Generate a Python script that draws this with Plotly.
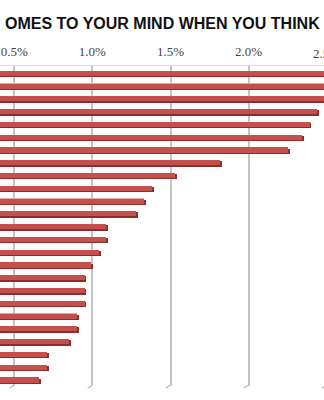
import plotly.graph_objects as go

# ---- data (percent) ----
values = [3.10, 2.80, 2.55, 2.44, 2.39, 2.34, 2.25, 1.82, 1.53, 1.38,
          1.33, 1.28, 1.09, 1.09, 1.04, 0.99, 0.95, 0.95, 0.95, 0.90,
          0.90, 0.85, 0.71, 0.71, 0.66]
tick_vals = [0.5, 1.0, 1.5, 2.0, 2.5]
tick_text = ["0.5%", "1.0%", "1.5%", "2.0%", "2.5%"]
title_text = "OMES TO YOUR MIND WHEN YOU THINK"

idx = list(range(len(values)))
x_range = [0.4085, 2.4827]
y_range = [len(values) - 0.53, -0.57]

fig = go.Figure()
# light top highlight
fig.add_trace(go.Bar(x=values, y=[i - 0.06 for i in idx], orientation="h",
                     width=0.3, marker=dict(color="#e4a3a1", line=dict(width=0)),
                     hoverinfo="skip"))
# dark shadow
fig.add_trace(go.Bar(x=[v + 0.012 for v in values], y=[i + 0.1 for i in idx], orientation="h",
                     width=0.42, marker=dict(color="#8a2f2d", line=dict(width=0)),
                     hoverinfo="skip"))
# main face
fig.add_trace(go.Bar(x=values, y=idx, orientation="h",
                     width=0.4, marker=dict(color="#c4504e", line=dict(width=0))))

fig.update_layout(
    width=324, height=400, margin=dict(l=0, r=0, t=0, b=0),
    paper_bgcolor="white", plot_bgcolor="white",
    barmode="overlay", showlegend=False, bargap=0,
    xaxis=dict(range=x_range, side="top", tickvals=tick_vals, ticktext=tick_text,
               showgrid=True, gridcolor="#c4c4c4", gridwidth=1.5,
               zeroline=False, showline=True, linecolor="#d6d9e0", linewidth=1,
               ticks="", ticklabelstandoff=4,
               tickfont=dict(family="Liberation Serif", size=13, color="#444444")),
    yaxis=dict(range=y_range, domain=[0.035, 0.835], showticklabels=False,
               showgrid=False, zeroline=False, showline=False, ticks=""),
)

# floor ticks (3D base) under each gridline
for v in tick_vals:
    fig.add_shape(type="line", xref="x", yref="paper",
                  x0=v, x1=v - 0.03, y0=0.037, y1=0.03,
                  line=dict(color="#c4c4c4", width=1.5))

# partially visible 2.5% label
frac = (tick_vals[-1] - x_range[0]) / (x_range[1] - x_range[0])
fig.add_annotation(xref="paper", yref="paper", x=frac, y=1 - 53 / 400,
                   text=tick_text[-1], showarrow=False, xanchor="center", yanchor="middle",
                   font=dict(family="Liberation Serif", size=13, color="#444444"))

fig.add_annotation(xref="paper", yref="paper", x=0.5, y=1 - 23 / 400,
                   text=title_text, showarrow=False, xanchor="center", yanchor="middle",
                   font=dict(family="Liberation Sans", size=16, color="#111111", weight="bold"))

fig.write_html("out.html")
